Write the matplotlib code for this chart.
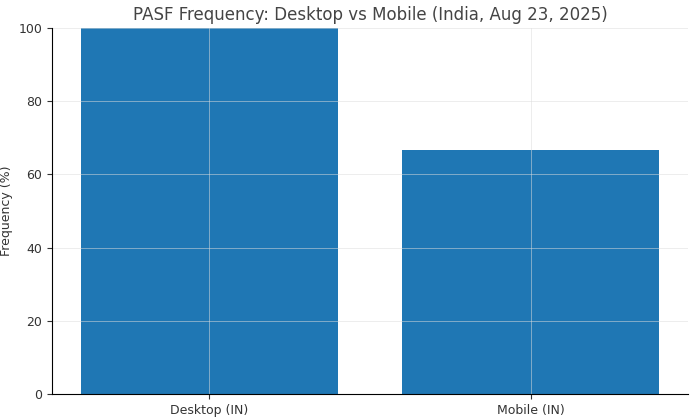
import matplotlib.pyplot as plt

categories = ["Desktop (IN)", "Mobile (IN)"]
frequency = [100, 66.7]

fig, ax = plt.subplots(figsize=(7, 4.2), dpi=100)
fig.subplots_adjust(left=0.074, right=0.983, top=0.933, bottom=0.062)

ax.bar(categories, frequency, color="#1f77b4", width=0.8)
ax.set_ylim(0, 100)
ax.set_ylabel("Frequency (%)", fontsize=9, color="#333333")
ax.set_title("PASF Frequency: Desktop vs Mobile (India, Aug 23, 2025)", fontsize=12, color="#444444")
ax.grid(True, color="#dddddd", linewidth=0.6, alpha=0.6)
ax.tick_params(labelsize=9, colors="#333333")
for s in ["top", "right"]:
    ax.spines[s].set_visible(False)

fig.savefig("out.png", dpi=100)
